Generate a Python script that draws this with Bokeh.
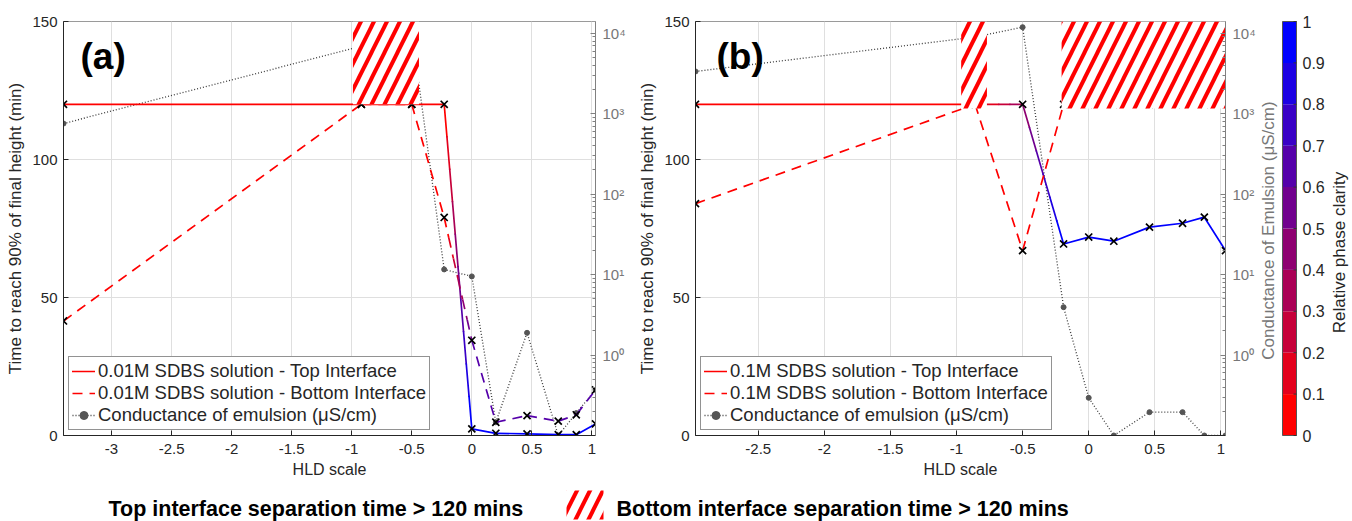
import math
from bokeh.plotting import figure
from bokeh.models import (Range1d, LogAxis, LogScale, FixedTicker,
                          Legend, LegendItem, Label)
from bokeh.layouts import row, column
from bokeh.embed import file_html
from bokeh.resources import INLINE
from bokeh.core.properties import value

FONT = "Liberation Sans"
DARK = "#262626"
GRAYAX = "#808080"
GRAYTXT = "#777777"

# ---------------- data ----------------
hld_a = [-3.4, -0.92, -0.5, -0.23, 0.0, 0.2, 0.46, 0.72, 0.87, 1.03]
top_a = [120, 120, 120, 120, 2.4, 0.8, 0.6, 0.3, 0.3, 4.2]
bottom_a = [41.5, 120, 120, 79, 34.5, 4.8, 7.2, 5.2, 7.5, 16.5]
cond_a = [755, 6900, 10500, 11.6, 9.5, 0.146, 1.89, 0.1, 0.19, 0.37]
clarity_top_a = [0, 0, 0, 0, 1, 1, 1, 1, 1, 1]
clarity_bottom_a = [0, 0, 0, 0, 0.6, 0.6, 0.6, 0.6, 0.6, 0.65]
hatch_left_a = [-0.99]
hatch_right_a = [-0.44]
hatch_bottom_a = 120

hld_b = [-2.975, -0.86, -0.5, -0.19, 0.0, 0.19, 0.46, 0.71, 0.875, 1.035]
top_b = [120, 120, 120, 69.4, 71.9, 70.4, 75.5, 76.9, 79.1, 67]
bottom_b = [84, 120, 67, 120, 120, 120, 120, 120, 120, 120]
cond_b = [3350, 8970, 11900, 3.94, 0.294, 0.1, 0.195, 0.195, 0.1, 0.1]
clarity_top_b = [0, 0, 0.4, 1, 1, 1, 1, 1, 1, 1]
clarity_bottom_b = [0, 0, 0, 0, 0, 0, 0, 0, 0, 0]
hatch_left_b = [-0.965, -0.205]
hatch_right_b = [-0.77, 1.035]
hatch_bottom_b = 118.5

time_range = (0, 150)
time_ticks = [0, 50, 100, 150]
time_tick_labels = ["0", "50", "100", "150"]
cond_range = (0.1, 14000)
cond_ticks = [1, 10, 100, 1000, 10000]
cond_tick_labels = ["10\u2070", "10\u00b9", "10\u00b2", "10\u00b3", "10\u2074"]
hld_ticks_a = [-3, -2.5, -2, -1.5, -1, -0.5, 0, 0.5, 1]
hld_tick_labels_a = ["-3", "-2.5", "-2", "-1.5", "-1", "-0.5", "0", "0.5", "1"]
hld_ticks_b = [-2.5, -2, -1.5, -1, -0.5, 0, 0.5, 1]
hld_tick_labels_b = ["-2.5", "-2", "-1.5", "-1", "-0.5", "0", "0.5", "1"]
clarity_levels = [0, 0.1, 0.2, 0.3, 0.4, 0.5, 0.6, 0.7, 0.8, 0.9, 1]
clarity_labels = ["0", "0.1", "0.2", "0.3", "0.4", "0.5", "0.6", "0.7", "0.8", "0.9", "1"]

legend_a = ["0.01M SDBS solution - Top Interface",
            "0.01M SDBS solution - Bottom Interface",
            "Conductance of emulsion (\u03bcS/cm)"]
legend_b = ["0.1M SDBS solution - Top Interface",
            "0.1M SDBS solution - Bottom Interface",
            "Conductance of emulsion (\u03bcS/cm)"]
bottom_texts = ["Top interface separation time > 120 mins",
                "Bottom interface separation time > 120 mins"]
cond_axis_title = "Conductance of Emulsion (\u03bcS/cm)"
clarity_title = "Relative phase clarity"

# ---------------- layout constants (pixels) ----------------
PAGE_H = 521
PANEL_H = 485
FR_TOP = 21
FR_BOT = 50
FR_H = PANEL_H - FR_TOP - FR_BOT
STRIP_X0 = 1260

# 10-step red -> blue colormap
NC = len(clarity_levels) - 1
cmap = ["#%02x00%02x" % (round(255 * (1 - k / (NC - 1))), round(255 * k / (NC - 1)))
        for k in range(NC)]

HATCH = dict(hatch_pattern="/", hatch_color="red", hatch_weight=4, hatch_scale=26)


def colored_segments(xs, ys, cs, n=30):
    sx, sy, sc = [], [], []
    for i in range(len(xs) - 1):
        cur = None
        for j in range(n):
            t0, t1 = j / n, (j + 1) / n
            c = cs[i] + (cs[i + 1] - cs[i]) * (t0 + t1) / 2
            col = cmap[min(int(c * NC + 1e-9), NC - 1)]
            xa = xs[i] + (xs[i + 1] - xs[i]) * t0
            xb = xs[i] + (xs[i + 1] - xs[i]) * t1
            ya = ys[i] + (ys[i + 1] - ys[i]) * t0
            yb = ys[i] + (ys[i + 1] - ys[i]) * t1
            if col == cur:
                sx[-1][-1] = xb
                sy[-1][-1] = yb
            else:
                sx.append([xa, xb])
                sy.append([ya, yb])
                sc.append(col)
                cur = col
    return sx, sy, sc


def style_text_axis(ax, color=DARK, size="15px"):
    ax.major_label_text_font = FONT
    ax.major_label_text_font_size = size
    ax.major_label_text_color = color
    ax.axis_label_text_font = FONT
    ax.axis_label_text_font_style = "normal"
    ax.axis_label_text_color = color
    ax.minor_tick_line_color = None
    ax.major_tick_in = 5
    ax.major_tick_out = 0


def panel(width, ml, mr, hld, top, bottom, cond, ctop, cbot, hl, hr, hb,
          xticks, xlabels, legend_labels, tag, tag_dx):
    p = figure(width=width, height=PANEL_H, x_range=Range1d(min(hld), max(hld)),
               y_range=Range1d(*time_range), output_backend="svg",
               toolbar_location=None, min_border_left=ml, min_border_right=mr,
               min_border_top=FR_TOP, min_border_bottom=FR_BOT)
    p.background_fill_color = "white"
    p.border_fill_color = "white"
    p.outline_line_color = "#9a9a9a"
    p.extra_y_ranges = {"cond": Range1d(*cond_range)}
    p.extra_y_scales = {"cond": LogScale()}

    xa = p.xaxis[0]
    xa.ticker = FixedTicker(ticks=xticks)
    xa.major_label_overrides = dict(zip(xticks, xlabels))
    style_text_axis(xa)
    xa.axis_label = "HLD scale"
    xa.axis_label_text_font_size = "16px"
    xa.major_label_standoff = 8
    xa.axis_label_standoff = 4
    xa.axis_line_color = DARK
    xa.major_tick_line_color = DARK

    ya = p.yaxis[0]
    ya.ticker = FixedTicker(ticks=time_ticks)
    ya.major_label_overrides = dict(zip(time_ticks, time_tick_labels))
    style_text_axis(ya)
    ya.axis_label = "Time to reach 90% of final height (min)"
    ya.axis_label_text_font_size = "17px"
    ya.major_label_standoff = 6
    ya.axis_label_standoff = 4
    ya.axis_line_color = DARK
    ya.major_tick_line_color = DARK

    minor = [m * 10 ** e for e in range(-1, 5) for m in range(2, 10)]
    rax = LogAxis(y_range_name="cond",
                  ticker=FixedTicker(ticks=cond_ticks, minor_ticks=minor))
    rax.major_label_overrides = dict(zip(cond_ticks, cond_tick_labels))
    style_text_axis(rax, color=GRAYTXT)
    rax.major_label_standoff = 7
    rax.minor_tick_in = 3
    rax.minor_tick_out = 0
    rax.minor_tick_line_color = GRAYAX
    rax.axis_line_color = GRAYAX
    rax.major_tick_line_color = GRAYAX
    p.add_layout(rax, "right")

    p.xgrid.ticker = FixedTicker(ticks=xticks)
    p.ygrid.ticker = FixedTicker(ticks=time_ticks)
    p.xgrid.grid_line_color = "#dfdfdf"
    p.ygrid.grid_line_color = "#dfdfdf"

    # conductance (right log axis)
    cl = p.line(hld, cond, y_range_name="cond", line_color="#3a3a3a",
                line_width=1.3, line_dash="1 2")
    cs = p.scatter(hld, cond, y_range_name="cond", marker="circle", size=5,
                   fill_color="#555555", line_color="#555555")

    # colored top (solid) and bottom (dashed) interface lines
    tx, ty, tc = colored_segments(hld, top, ctop)
    rt = p.multi_line(tx, ty, line_color=tc, line_width=1.7, line_cap="round")
    bx, by, bc = colored_segments(hld, bottom, cbot)
    rb = p.multi_line(bx, by, line_color=bc, line_width=1.7, line_dash="10 7")
    p.scatter(hld, top, marker="x", size=10, line_color="black", line_width=1.7)
    p.scatter(hld, bottom, marker="x", size=10, line_color="black", line_width=1.7)

    # hatched regions (bottom interface > 120 min)
    p.quad(left=hl, right=hr, bottom=[hb] * len(hl),
           top=[time_range[1]] * len(hl), fill_color="white", line_color=None,
           **HATCH)

    items = [LegendItem(label=legend_labels[0], renderers=[rt], index=0),
             LegendItem(label=legend_labels[1], renderers=[rb], index=0),
             LegendItem(label=legend_labels[2], renderers=[cl, cs], index=0)]
    leg = Legend(items=items, location=(5, 5))
    leg.label_text_font = FONT
    leg.label_text_font_size = "18.5px"
    leg.label_text_color = DARK
    leg.glyph_width = 23
    leg.glyph_height = 20
    leg.label_height = 20
    leg.label_standoff = 3
    leg.padding = 3
    leg.spacing = 0
    leg.margin = 0
    leg.border_line_color = DARK
    leg.border_line_width = 1
    leg.background_fill_alpha = 1
    p.add_layout(leg)

    p.add_layout(Label(x=min(hld), y=time_range[1], x_offset=tag_dx, y_offset=-14,
                       text=tag, text_font=FONT, text_font_size="37px",
                       text_font_style="bold", text_baseline="top",
                       text_color="black"))
    return p


pa = panel(635, 63, 40, hld_a, top_a, bottom_a, cond_a, clarity_top_a,
           clarity_bottom_a, hatch_left_a, hatch_right_a, hatch_bottom_a,
           hld_ticks_a, hld_tick_labels_a, legend_a, "(a)", 17)
pb = panel(625, 56, 35, hld_b, top_b, bottom_b, cond_b, clarity_top_b,
           clarity_bottom_b, hatch_left_b, hatch_right_b, hatch_bottom_b,
           hld_ticks_b, hld_tick_labels_b, legend_b, "(b)", 21)

# ---- strip right of panel (b): conductance axis title + colorbar (page-pixel x) ----
X1 = 1352
pc = figure(width=X1 - STRIP_X0, height=PAGE_H, x_range=Range1d(STRIP_X0, X1),
            y_range=Range1d(-(PAGE_H - FR_TOP - FR_H) / FR_H, 1 + FR_TOP / FR_H),
            output_backend="svg", toolbar_location=None, min_border=0)
pc.axis.visible = False
pc.grid.visible = False
pc.outline_line_color = None
pc.background_fill_color = "white"
CB_L, CB_R = 1282, 1296
pc.quad(left=CB_L, right=CB_R, bottom=clarity_levels[:-1], top=clarity_levels[1:],
        fill_color=cmap, line_color=None)
pc.quad(left=[CB_L], right=[CB_R], bottom=[clarity_levels[0]],
        top=[clarity_levels[-1]], fill_color=None, line_color="#555555",
        line_width=1)
pc.segment(x0=[CB_R - 3] * len(clarity_levels), x1=[CB_R] * len(clarity_levels),
           y0=clarity_levels, y1=clarity_levels, line_color="#333333", line_width=1)
pc.text(x=[1302] * len(clarity_levels), y=clarity_levels, text=clarity_labels,
        text_font=value(FONT), text_font_size="16px", text_color=DARK,
        text_align="left", text_baseline="middle")
pc.text(x=[1339], y=[0.442], text=[clarity_title], angle=math.pi / 2,
        text_font=value(FONT), text_font_size="17px", text_color=DARK,
        text_align="center", text_baseline="middle")
pc.text(x=[1268], y=[0.495], text=[cond_axis_title], angle=math.pi / 2,
        text_font=value(FONT), text_font_size="17px", text_color=GRAYTXT,
        text_align="center", text_baseline="middle")

# ---- bottom legend strip ----
pd = figure(width=STRIP_X0, height=PAGE_H - PANEL_H, x_range=Range1d(0, STRIP_X0),
            y_range=Range1d(0, PAGE_H - PANEL_H),
            output_backend="svg", toolbar_location=None, min_border=0)
pd.axis.visible = False
pd.grid.visible = False
pd.outline_line_color = None
pd.text(x=[108, 616], y=[13, 13], text=bottom_texts, text_font=value(FONT),
        text_font_size="21.5px", text_font_style="bold", text_baseline="middle",
        text_color="black")
pd.quad(left=[566], right=[603], bottom=[2], top=[31], fill_color="white",
        line_color=None, **HATCH)

layout = row(column(row(pa, pb), pd), pc)
open("out.html", "w").write(file_html(layout, INLINE))
